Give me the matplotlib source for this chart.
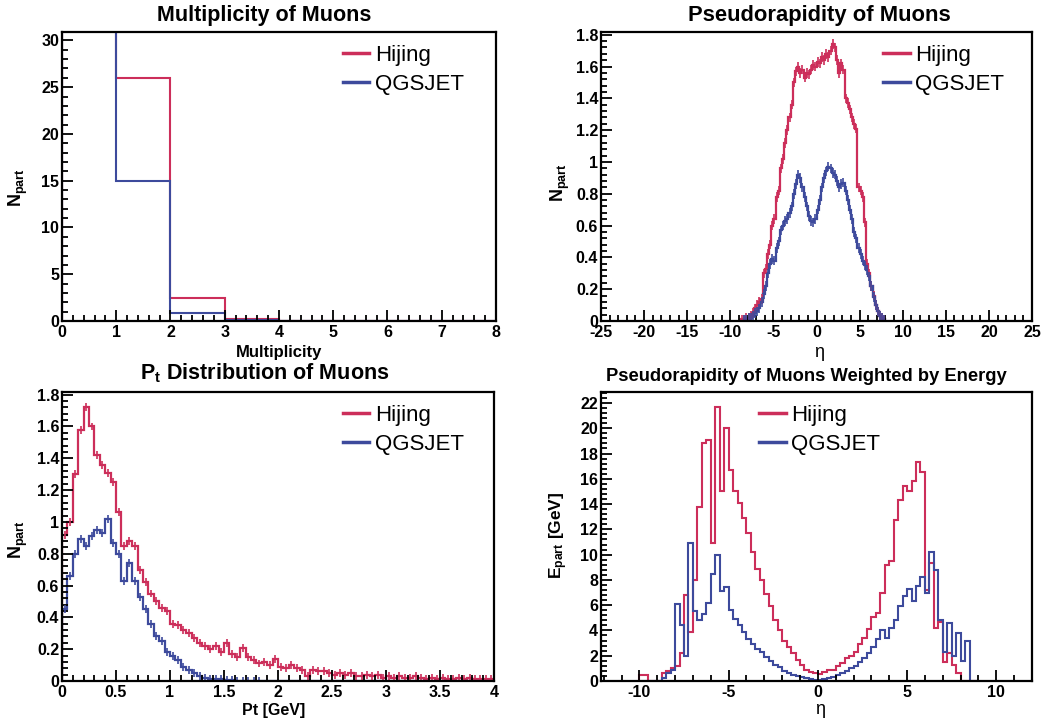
import matplotlib
matplotlib.use("Agg")
import matplotlib.pyplot as plt
import numpy as np
from matplotlib.lines import Line2D
from matplotlib.ticker import FuncFormatter, MultipleLocator

plt.rcParams["font.family"] = "Liberation Sans"
plt.rcParams["font.weight"] = "bold"
plt.rcParams["axes.labelweight"] = "bold"
plt.rcParams["mathtext.fontset"] = "custom"
plt.rcParams["mathtext.rm"] = "Liberation Sans:bold"
plt.rcParams["mathtext.bf"] = "Liberation Sans:bold"
plt.rcParams["mathtext.it"] = "Liberation Sans:bold"

# multiplicity histogram (bins of width 1 from 0 to 8), first bin is off scale
mult_edges = np.arange(0, 9, 1)
hijing_mult = [60.0, 26.0, 2.5, 0.25, 0.0, 0.0, 0.0, 0.0]
qgsjet_mult = [80.0, 15.0, 0.9, 0.1, 0.0, 0.0, 0.0, 0.0]

# pseudorapidity histogram (bins of 0.25 from -9 to 8)
eta_edges = np.arange(-9.0, 8.001, 0.25)
hijing_eta = [
    0.00, 0.01, 0.01, 0.02, 0.02, 0.03, 0.05, 0.08,
    0.10, 0.12, 0.14, 0.30, 0.33, 0.42, 0.48, 0.60,
    0.64, 0.78, 0.82, 0.96, 1.02, 1.12, 1.20, 1.28,
    1.36, 1.50, 1.57, 1.60, 1.56, 1.58, 1.53, 1.56,
    1.55, 1.58, 1.61, 1.60, 1.63, 1.62, 1.66, 1.64,
    1.68, 1.66, 1.70, 1.74, 1.72, 1.64, 1.56, 1.62,
    1.58, 1.40, 1.37, 1.33, 1.28, 1.24, 1.21, 0.84,
    0.82, 0.78, 0.62, 0.36, 0.30, 0.22, 0.16, 0.10,
    0.06, 0.03, 0.02, 0.01,
]
qgsjet_eta = [
    0.00, 0.00, 0.01, 0.01, 0.02, 0.02, 0.03, 0.05,
    0.06, 0.08, 0.12, 0.17, 0.22, 0.30, 0.36, 0.39,
    0.38, 0.46, 0.50, 0.57, 0.60, 0.63, 0.64, 0.68,
    0.72, 0.80, 0.86, 0.92, 0.90, 0.84, 0.78, 0.72,
    0.66, 0.63, 0.62, 0.64, 0.70, 0.76, 0.84, 0.90,
    0.94, 0.97, 0.96, 0.93, 0.92, 0.88, 0.84, 0.86,
    0.87, 0.82, 0.76, 0.70, 0.64, 0.56, 0.52, 0.46,
    0.42, 0.38, 0.35, 0.32, 0.28, 0.22, 0.15, 0.10,
    0.06, 0.03, 0.02, 0.01,
]

# transverse momentum histogram (bins of 0.05 GeV from 0 to 4)
pt_edges = np.arange(0.0, 4.001, 0.05)
hijing_pt = [
    0.92, 1.00, 1.30, 1.58, 1.72, 1.60, 1.42, 1.36, 1.31, 1.25,
    1.06, 0.85, 0.88, 0.85, 0.70, 0.62, 0.55, 0.50, 0.46, 0.44,
    0.36, 0.35, 0.32, 0.30, 0.27, 0.24, 0.22, 0.20, 0.22, 0.18,
    0.24, 0.17, 0.15, 0.21, 0.15, 0.13, 0.11, 0.12, 0.10, 0.14,
    0.09, 0.08, 0.10, 0.08, 0.07, 0.03, 0.07, 0.06, 0.06, 0.05,
    0.04, 0.05, 0.04, 0.05, 0.03, 0.03, 0.04, 0.03, 0.04, 0.02,
    0.03, 0.02, 0.03, 0.02, 0.02, 0.03, 0.02, 0.01, 0.02, 0.01,
    0.02, 0.01, 0.01, 0.02, 0.01, 0.02, 0.01, 0.01, 0.01, 0.01,
]
qgsjet_pt = [
    0.45, 0.66, 0.80, 0.89, 0.85, 0.91, 0.95, 0.93, 1.02, 0.87,
    0.80, 0.63, 0.74, 0.63, 0.53, 0.45, 0.36, 0.28, 0.25, 0.18,
    0.16, 0.13, 0.09, 0.07, 0.05, 0.03, 0.02, 0.015, 0.01, 0.01,
    0.005, 0.004, 0.003, 0.002, 0.002, 0.001, 0.001, 0.0, 0.0, 0.0,
    0.0, 0.0, 0.0, 0.0, 0.0, 0.0, 0.0, 0.0, 0.0, 0.0,
    0.0, 0.0, 0.0, 0.0, 0.0, 0.0, 0.0, 0.0, 0.0, 0.0,
    0.0, 0.0, 0.0, 0.0, 0.0, 0.0, 0.0, 0.0, 0.0, 0.0,
    0.0, 0.0, 0.0, 0.0, 0.0, 0.0, 0.0, 0.0, 0.0, 0.0,
]

# energy weighted pseudorapidity (bins of 0.25 from -10 to 9)
ew_edges = np.arange(-10.0, 9.001, 0.25)
hijing_ew = [
    0.5, 0.5, 0.0, 0.0, 0.0, 0.6, 0.8, 1.0,
    1.2, 2.2, 6.8, 3.9, 8.0, 13.8, 18.8, 19.1,
    10.9, 21.7, 15.0, 20.0, 16.7, 15.0, 14.1, 12.9,
    11.7, 10.2, 8.9, 8.0, 6.9, 5.9, 4.8, 4.0,
    3.2, 2.7, 2.2, 1.7, 1.3, 0.9, 0.75, 0.6,
    0.55, 0.7, 0.9, 0.9, 1.2, 1.4, 1.8, 2.0,
    2.3, 2.9, 3.4, 4.1, 5.1, 5.4, 7.0, 9.2,
    9.5, 12.7, 14.3, 15.4, 15.0, 15.8, 17.3, 16.5,
    7.2, 9.3, 4.2, 4.7, 1.5, 2.2, 1.3, 0.6,
    0.0, 0.0, 0.0, 0.0,
]
qgsjet_ew = [
    0.0, 0.0, 0.0, 0.0, 0.0, 0.2, 0.6, 0.9,
    6.1, 4.4, 2.0, 10.9, 5.5, 4.8, 5.3, 6.2,
    8.5, 10.0, 7.1, 7.4, 5.6, 4.9, 4.4, 3.9,
    3.3, 2.9, 2.5, 2.3, 1.9, 1.6, 1.3, 1.1,
    0.8, 0.65, 0.5, 0.4, 0.3, 0.2, 0.15, 0.1,
    0.1, 0.15, 0.25, 0.35, 0.5, 0.6, 0.8, 1.0,
    1.2, 1.5, 1.8, 2.2, 2.7, 3.3, 4.0, 3.4,
    4.2, 4.8, 5.9, 6.7, 7.3, 6.3, 7.5, 8.2,
    7.0, 10.2, 8.8, 4.8, 2.3, 4.6, 2.0, 3.8,
    1.6, 3.2, 0.0, 0.0,
]

labels = ["Hijing", "QGSJET"]
RED = "#cc2e5a"
BLUE = "#3d4a9c"


def setup_axes(ax, xlim, ylim, xmaj, xmin, ymaj, ymin):
    """ROOT-like frame: inward ticks on bottom/left only."""
    ax.set_xlim(*xlim)
    ax.set_ylim(*ylim)
    ax.xaxis.set_major_locator(MultipleLocator(xmaj))
    ax.xaxis.set_minor_locator(MultipleLocator(xmin))
    ax.yaxis.set_major_locator(MultipleLocator(ymaj))
    ax.yaxis.set_minor_locator(MultipleLocator(ymin))
    fmt = FuncFormatter(lambda v, p: f"{v:g}")
    ax.xaxis.set_major_formatter(fmt)
    ax.yaxis.set_major_formatter(fmt)
    ax.tick_params(which="both", direction="in", top=False, right=False,
                   width=1.3, labelsize=11.5)
    ax.tick_params(which="major", length=8)
    ax.tick_params(which="minor", length=4)
    ax.tick_params(axis="x", pad=3)
    ax.tick_params(axis="y", pad=2)
    for sp in ax.spines.values():
        sp.set_linewidth(1.6)


def add_legend(ax, x0):
    handles = [Line2D([], [], color=RED, lw=2.5), Line2D([], [], color=BLUE, lw=2.5)]
    ax.legend(handles, labels, loc="upper left", bbox_to_anchor=(x0, 0.956),
              frameon=False, handlelength=1.2, handletextpad=0.25,
              labelspacing=0.38, borderaxespad=0.0, borderpad=0.0,
              prop={"family": "Liberation Sans", "weight": "normal", "size": 16})


def draw_hist(ax, edges, h, q, err=None, lw=1.4):
    for vals, col in [(h, RED), (q, BLUE)]:
        vals = np.asarray(vals)
        ax.stairs(vals, edges, color=col, lw=lw, baseline=0)
        if err is not None:
            centers = 0.5 * (edges[1:] + edges[:-1])
            keep = vals > 0
            ax.errorbar(centers[keep], vals[keep], yerr=err, fmt="none",
                        ecolor=col, elinewidth=1.2)


fig = plt.figure(figsize=(10.47, 7.22), dpi=100)
ax1 = fig.add_axes([0.0592, 0.5554, 0.4145, 0.4003])
ax2 = fig.add_axes([0.5740, 0.5554, 0.4117, 0.4003])
ax3 = fig.add_axes([0.0592, 0.0568, 0.4126, 0.4003])
ax4 = fig.add_axes([0.5740, 0.0568, 0.4117, 0.4003])

# multiplicity
draw_hist(ax1, mult_edges, hijing_mult, qgsjet_mult, lw=1.5)
setup_axes(ax1, (0, 8), (0, 30.9), 1, 0.2, 5, 1)
ax1.set_xlabel("Multiplicity", fontsize=12)
ax1.xaxis.set_label_coords(0.5, -0.083)
ax1.set_ylabel(r"$\mathrm{N_{part}}$", fontsize=13)
ax1.yaxis.set_label_coords(-0.074, 0.46)
add_legend(ax1, 0.647)

# pseudorapidity
draw_hist(ax2, eta_edges, hijing_eta, qgsjet_eta, err=0.03, lw=1.6)
setup_axes(ax2, (-25, 25), (0, 1.817), 5, 1, 0.2, 0.04)
ax2.set_xlabel("η", fontsize=13, fontweight="normal")
ax2.xaxis.set_label_coords(0.506, -0.08)
ax2.set_ylabel(r"$\mathrm{N_{part}}$", fontsize=13)
ax2.yaxis.set_label_coords(-0.067, 0.48)
add_legend(ax2, 0.654)

# transverse momentum
draw_hist(ax3, pt_edges, hijing_pt, qgsjet_pt, err=0.025, lw=1.6)
setup_axes(ax3, (0, 4), (0, 1.817), 0.5, 0.1, 0.2, 0.04)
ax3.set_xlabel("Pt [GeV]", fontsize=11.5)
ax3.xaxis.set_label_coords(0.49, -0.076)
ax3.set_ylabel(r"$\mathrm{N_{part}}$", fontsize=13)
ax3.yaxis.set_label_coords(-0.074, 0.49)
add_legend(ax3, 0.650)

# energy weighted pseudorapidity
draw_hist(ax4, ew_edges, hijing_ew, qgsjet_ew, lw=1.5)
setup_axes(ax4, (-12.15, 12.0), (0, 22.87), 5, 1, 2, 0.4)
ax4.set_xlabel("η", fontsize=13, fontweight="normal")
ax4.xaxis.set_label_coords(0.508, -0.068)
ax4.set_ylabel(r"$\mathrm{E_{part}}$ [GeV]", fontsize=12.5)
ax4.yaxis.set_label_coords(-0.072, 0.505)
add_legend(ax4, 0.367)

# titles centred like the ROOT pads
fig.text(0.252, 0.979, "Multiplicity of Muons", ha="center", va="center", fontsize=15.5)
fig.text(0.783, 0.979, "Pseudorapidity of Muons", ha="center", va="center", fontsize=15.8)
fig.text(0.253, 0.483, r"P$_{\mathrm{t}}$ Distribution of Muons", ha="center", va="center",
         fontsize=15.5)
fig.text(0.770, 0.479, "Pseudorapidity of Muons Weighted by Energy", ha="center",
         va="center", fontsize=13.2)

fig.savefig("out.png", dpi=100)
